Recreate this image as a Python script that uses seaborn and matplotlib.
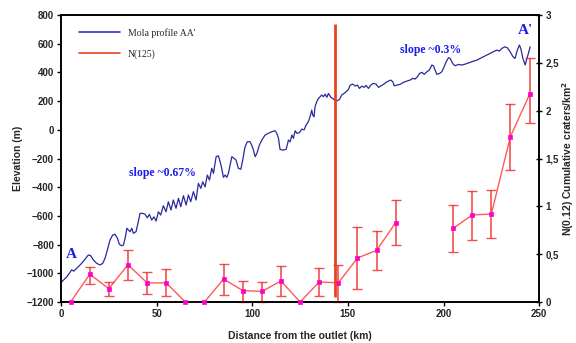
#!/usr/bin/env python3

import numpy as np
import pandas as pd
import matplotlib
matplotlib.use("Agg")
import matplotlib.pyplot as plt
from matplotlib.ticker import FuncFormatter, MultipleLocator
import seaborn as sns

# MOLA elevation profile along AA' (distance in km, elevation in m)
profile_km = [0.4, 3.0, 5.6, 6.6, 8.2, 10.8, 12.6, 14.3, 15.5, 16.9, 18.6, 20.4, 21.8,
              23.0, 24.2, 25.6, 27.0, 28.2, 29.5, 30.5, 31.7, 32.6, 33.5, 34.4, 35.2,
              36.1, 37.0, 37.8, 39.2, 40.4, 41.3, 42.7, 43.9, 45.1, 46.2, 47.4, 48.6,
              49.7, 50.9, 52.1, 53.5, 54.9, 56.1, 57.5, 58.7, 60.1, 61.4, 62.6, 64.0,
              65.4, 66.6, 67.8, 69.2, 70.6, 71.8, 73.1, 74.1, 75.3, 76.5, 77.6, 78.8,
              79.7, 81.1, 82.3, 83.2, 84.0, 84.9, 85.8, 86.7, 87.5, 88.4, 89.3, 90.5,
              91.5, 92.7, 94.0, 95.0, 96.2, 97.4, 98.8, 99.7, 100.6, 101.5, 102.4,
              103.7, 105.0, 106.7, 108.4, 110.2, 111.9, 112.8, 113.7, 114.5, 115.9,
              117.7, 118.9, 119.8, 120.7, 121.5, 122.4, 123.3, 124.6, 125.9, 127.1,
              128.1, 129.3, 130.2, 131.1, 131.6, 132.3, 132.8, 133.7, 134.6, 135.5,
              136.3, 137.2, 138.1, 139.0, 139.8, 141.1, 142.1, 143.3, 144.5, 145.6,
              146.8, 148.0, 149.1, 150.3, 151.2, 152.6, 153.8, 155.0, 156.0, 157.3,
              158.5, 159.5, 160.7, 162.0, 163.3, 164.7, 166.0, 166.8, 168.6, 170.0,
              171.2, 172.4, 173.5, 174.2, 175.6, 177.3, 179.0, 180.8, 182.5, 183.9,
              185.1, 186.4, 187.4, 188.7, 189.9, 191.3, 192.6, 193.9, 194.7, 195.6,
              196.5, 197.9, 199.1, 200.3, 201.4, 202.6, 203.5, 204.3, 205.2, 206.1,
              207.8, 209.6, 211.3, 212.2, 213.9, 215.6, 217.4, 219.1, 220.9, 222.6,
              224.4, 226.1, 227.9, 229.2, 230.5, 232.2, 233.4, 234.8, 236.3, 237.4,
              238.6, 239.7, 240.4, 241.5, 242.7, 243.6, 244.4, 245.3]
profile_elev = [-1059, -1024, -975, -985, -965, -930, -900, -872, -877, -907, -930, -942, -930,
                -895, -838, -768, -733, -728, -756, -798, -808, -803, -756, -686, -698,
                -710, -686, -721, -710, -640, -582, -582, -588, -613, -589, -629, -606,
                -636, -571, -594, -529, -571, -501, -559, -489, -547, -477, -536, -459,
                -524, -454, -501, -431, -489, -373, -408, -362, -397, -315, -350, -268,
                -303, -187, -181, -223, -268, -331, -315, -331, -303, -245, -187, -199,
                -210, -268, -275, -210, -118, -83, -83, -106, -141, -187, -164,
                -106, -71, -36, -24, -13, -6, -24, -59, -136, -141,
                -136, -71, -83, -36, -59, -6, -24, -20, 5, 0,
                33, 57, 91, 138, 103, 91, 161, 196, 219, 231,
                243, 231, 249, 227, 254, 227, 219, 203, 203, 212,
                243, 254, 266, 282, 312, 319, 305, 312, 289, 305,
                296, 310, 289, 312, 324, 319, 296, 303, 317, 331,
                340, 347, 335, 307, 312, 317, 331, 340, 347, 359,
                354, 370, 393, 401, 387, 405, 417, 452, 447, 417,
                387, 393, 405, 440, 475, 503, 498, 475, 456, 447,
                456, 452, 458, 463, 470, 479, 486, 498, 510, 521,
                533, 545, 556, 549, 568, 579, 572, 545, 510, 498,
                556, 591, 568, 498, 452, 498, 533, 579]

# crater density N(0.12) per 10 km bin; gap at 185-195 km
crater_km = [5, 15, 25, 35, 45, 55, 65, 75, 85, 95, 105, 115, 125, 135, 145, 155,
             165, 175, 205, 215, 225, 235, 245]
crater_n = [0, 0.29, 0.14, 0.39, 0.20, 0.20, 0, 0, 0.24, 0.12, 0.11, 0.22, 0, 0.21,
            0.20, 0.46, 0.54, 0.83, 0.77, 0.91, 0.92, 1.73, 2.17]
crater_lo = [0, 0.19, 0.06, 0.23, 0.08, 0.06, 0, 0, 0.07, 0.0, 0.0, 0.06, 0, 0.06,
             0.0, 0.14, 0.33, 0.60, 0.52, 0.65, 0.67, 1.38, 1.87]
crater_hi = [0, 0.37, 0.21, 0.54, 0.31, 0.34, 0, 0, 0.40, 0.22, 0.21, 0.38, 0, 0.36,
             0.39, 0.78, 0.74, 1.07, 1.01, 1.16, 1.17, 2.07, 2.55]
crater_seg = [0] * 18 + [1] * 5

boundary_km = 143

BLUE = "#2a2a9c"
RED_LINE = "#ff5a5a"
RED_BAR = "#f03030"
PINK = "#ff00cc"
TXT_BLUE = "#1c1cf0"


def main():
    sns.set_style("ticks")
    plt.rcParams["font.family"] = ["Liberation Sans", "DejaVu Sans"]

    fig = plt.figure(figsize=(5.76, 3.43), dpi=100)
    ax = fig.add_axes([0.106, 0.1195, 0.83, 0.8365])
    ax2 = ax.twinx()

    prof = pd.DataFrame({"km": profile_km, "elev": profile_elev})
    sns.lineplot(data=prof, x="km", y="elev", color=BLUE, lw=0.9, ax=ax,
                 estimator=None, sort=False)

    crat = pd.DataFrame({"km": crater_km, "n": crater_n, "seg": crater_seg})
    sns.lineplot(data=crat, x="km", y="n", units="seg", estimator=None,
                 color=RED_LINE, lw=1.0, ax=ax2, clip_on=False)

    n = np.array(crater_n)
    has_err = (np.array(crater_hi) - np.array(crater_lo)) > 0
    yerr = np.vstack([n - np.array(crater_lo), np.array(crater_hi) - n])
    ax2.errorbar(np.array(crater_km)[has_err], n[has_err], yerr=yerr[:, has_err],
                 fmt="none", ecolor=RED_BAR, elinewidth=1.2, capsize=3.5,
                 capthick=1.0, alpha=0.85, clip_on=False)
    sns.scatterplot(x=crater_km, y=crater_n, color=PINK, marker="s", s=10,
                    edgecolor=PINK, linewidth=0.5, ax=ax2, zorder=5, clip_on=False)

    ax2.vlines(boundary_km, 0.055, 2.91, color="#e8421e", lw=2.0, zorder=6)

    ax.set_xlim(0, 250)
    ax.set_ylim(-1200, 800)
    ax2.set_ylim(0, 3)
    ax.xaxis.set_major_locator(MultipleLocator(50))
    ax.yaxis.set_major_locator(MultipleLocator(200))
    ax2.yaxis.set_major_locator(MultipleLocator(0.5))
    ax2.yaxis.set_major_formatter(FuncFormatter(lambda v, p: f"{v:g}".replace(".", ",")))

    for a in (ax, ax2):
        for s in a.spines.values():
            s.set_visible(True)
            s.set_color("black")
            s.set_linewidth(1.2)
        a.tick_params(labelsize=7, width=1, length=3, color="black", pad=2)
        for lab in a.get_xticklabels() + a.get_yticklabels():
            lab.set_fontweight("bold")
    ax2.tick_params(axis="y", direction="inout", length=5)

    ax.set_xlabel("Distance from the outlet (km)", fontsize=7.5, fontweight="bold", labelpad=9)
    ax.set_ylabel("Elevation (m)", fontsize=7.5, fontweight="bold", labelpad=3)
    ax2.set_ylabel("N(0.12) Cumulative craters/km$^\\mathbf{2}$", fontsize=7.5,
                   fontweight="bold", labelpad=1)

    serif = ["Liberation Serif", "DejaVu Serif"]
    ax.text(5.2, -866, "A", color=TXT_BLUE, fontsize=11, fontweight="bold",
            family=serif, ha="center", va="center")
    ax.text(243, 690, "A'", color=TXT_BLUE, fontsize=11, fontweight="bold",
            family=serif, ha="center", va="center")
    ax.text(53, -301, "slope ~0.67%", color=TXT_BLUE, fontsize=8.5, fontweight="bold",
            family=serif, ha="center", va="center")
    ax.text(193, 556, "slope ~0.3%", color=TXT_BLUE, fontsize=8.5, fontweight="bold",
            family=serif, ha="center", va="center")

    h1, = ax.plot([], [], color="#3030d0", lw=1.2)
    h2, = ax.plot([], [], color="#e8421e", lw=1.2)
    leg = ax.legend([h1, h2], ["Mola profile AA'", "N(125)"], loc="upper left",
                    bbox_to_anchor=(0.02, 0.985), frameon=False, handlelength=4.2,
                    labelspacing=1.2, prop={"family": serif, "size": 7})
    leg.set_zorder(10)

    fig.savefig("out.png", dpi=100)


if __name__ == "__main__":
    main()
